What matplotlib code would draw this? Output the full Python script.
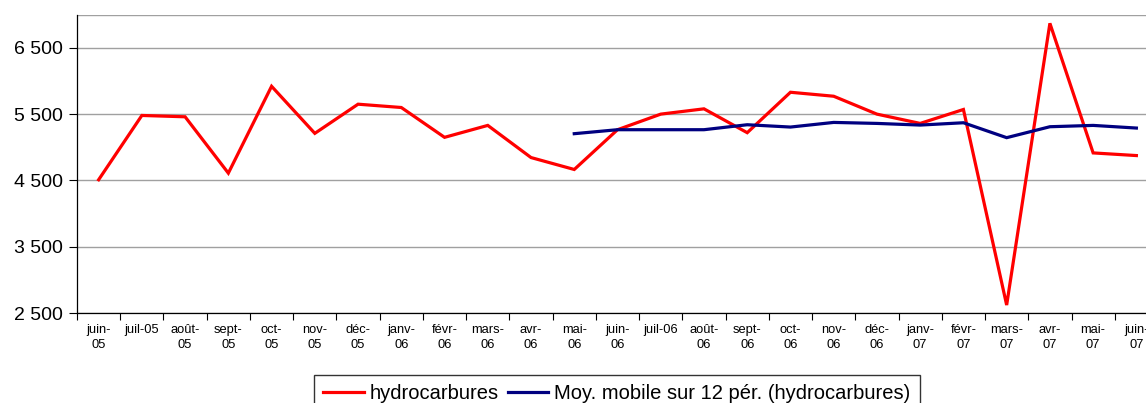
import numpy as np
import matplotlib.pyplot as plt
from matplotlib.ticker import FuncFormatter

plt.rcParams['font.family'] = ['Liberation Sans', 'DejaVu Sans']

months = ["juin-\n05", "juil-05", "août-\n05", "sept-\n05", "oct-\n05", "nov-\n05",
          "déc-\n05", "janv-\n06", "févr-\n06", "mars-\n06", "avr-\n06", "mai-\n06",
          "juin-\n06", "juil-06", "août-\n06", "sept-\n06", "oct-\n06", "nov-\n06",
          "déc-\n06", "janv-\n07", "févr-\n07", "mars-\n07", "avr-\n07", "mai-\n07",
          "juin-\n07"]

hydrocarbures = [4510, 5480, 5460, 4610, 5920, 5210, 5650, 5600, 5150, 5330,
                 4845, 4665, 5265, 5500, 5580, 5220, 5830, 5770, 5500, 5360,
                 5570, 2620, 6870, 4915, 4875]

# moving average starts at mai-06
moy_mobile = [5205, 5265, 5265, 5265, 5340, 5305, 5375, 5360, 5335, 5370,
              5145, 5310, 5330, 5290]

W, H = 1146, 403
fig = plt.figure(figsize=(W / 100, H / 100), dpi=100)
ax = fig.add_axes([77 / W, (H - 313) / H, (1158 - 77) / W, (313 - 14.7) / H])

x = np.arange(len(months))
x_ma = x[len(months) - len(moy_mobile):]

ax.plot(x, hydrocarbures, color='#ff0000', linewidth=2.3, label='hydrocarbures',
        solid_joinstyle='miter')
ax.plot(x_ma, moy_mobile, color='#000080', linewidth=2.3,
        label='Moy. mobile sur 12 pér. (hydrocarbures)', solid_joinstyle='miter')

ax.set_xlim(-0.5, len(months) - 0.5)
ax.set_ylim(2500, 7000)
ax.set_yticks([2500, 3500, 4500, 5500, 6500])
ax.yaxis.set_major_formatter(FuncFormatter(lambda v, p: f"{int(v):,}".replace(",", " ")))
ax.tick_params(axis='y', labelsize=14, length=6, width=0.8, direction='out', pad=4)

ax.set_xticks(x)
ax.set_xticklabels(months, fontsize=9.3, linespacing=1.3)
ax.set_xticks(np.arange(-0.5, len(months), 1), minor=True)
ax.tick_params(axis='x', which='major', length=0, pad=8)
ax.tick_params(axis='x', which='minor', length=5, width=0.8, direction='out')

ax.grid(axis='y', color='#a0a0a0', linewidth=1)
ax.axhline(7000, color='#a0a0a0', linewidth=1)
ax.set_axisbelow(True)

ax.spines['top'].set_visible(False)
ax.spines['right'].set_visible(False)
ax.spines['left'].set_color('black')
ax.spines['bottom'].set_color('black')
ax.spines['left'].set_linewidth(0.9)
ax.spines['bottom'].set_linewidth(0.9)

leg = fig.legend(loc='upper center', bbox_to_anchor=(617 / W, (H - 375) / H), ncol=2,
                 fontsize=14.5, frameon=True, fancybox=False, edgecolor='black',
                 handlelength=2.0, columnspacing=0.45, handletextpad=0.3,
                 borderpad=0.45, borderaxespad=0)
leg.get_frame().set_linewidth(1)

fig.savefig('out.png', dpi=100)
